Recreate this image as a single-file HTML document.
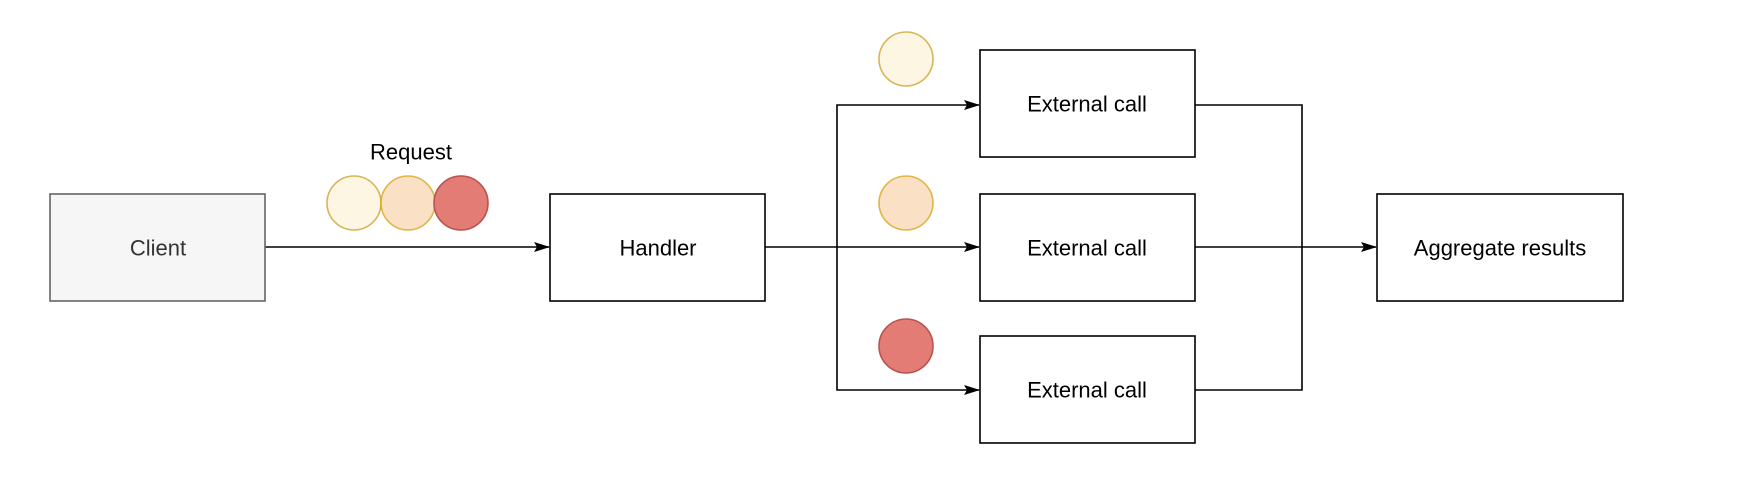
<!DOCTYPE html>
<html><head><meta charset="utf-8"><style>html,body{margin:0;padding:0;background:#fff}</style></head>
<body>
<svg width="1746" height="472" xmlns="http://www.w3.org/2000/svg" font-family="Liberation Sans, Arial, sans-serif" font-size="22">
<defs><marker id="a" markerWidth="16" markerHeight="10" refX="15" refY="5" orient="auto" markerUnits="userSpaceOnUse"><path d="M0,0 L16,5 L0,10 L3,5 Z" fill="#000"/></marker></defs>
<g stroke="#000" stroke-width="1.6" fill="none">
<line x1="265" y1="247" x2="549" y2="247" marker-end="url(#a)"/>
<line x1="765" y1="247" x2="979" y2="247" marker-end="url(#a)"/>
<polyline points="837,247 837,105 979,105" marker-end="url(#a)"/>
<polyline points="837,247 837,390 979,390" marker-end="url(#a)"/>
<line x1="1195" y1="247" x2="1376" y2="247" marker-end="url(#a)"/>
<polyline points="1195,105 1302,105 1302,390 1195,390"/>
</g>
<rect x="50" y="194" width="215" height="107" fill="#f5f6f5" stroke="#666" stroke-width="1.6"/>
<g fill="#fff" stroke="#000" stroke-width="1.6">
<rect x="550" y="194" width="215" height="107"/>
<rect x="980" y="50" width="215" height="107"/>
<rect x="980" y="194" width="215" height="107"/>
<rect x="980" y="336" width="215" height="107"/>
<rect x="1377" y="194" width="246" height="107"/>
</g>
<g stroke-width="1.6">
<circle cx="354" cy="203" r="27" fill="#fdf6e3" stroke="#d6b656"/>
<circle cx="408" cy="203" r="27" fill="#fae1c6" stroke="#d79b00" stroke-opacity="0.7"/>
<circle cx="461" cy="203" r="27" fill="#e27c74" stroke="#b85450"/>
<circle cx="906" cy="59" r="27" fill="#fdf6e3" stroke="#d6b656"/>
<circle cx="906" cy="203" r="27" fill="#fae1c6" stroke="#d79b00" stroke-opacity="0.7"/>
<circle cx="906" cy="346" r="27" fill="#e27c74" stroke="#b85450"/>
</g>
<g text-anchor="middle" dominant-baseline="central">
<text x="158" y="248" fill="#333">Client</text>
<text x="411" y="152">Request</text>
<text x="658" y="248">Handler</text>
<text x="1087" y="104">External call</text>
<text x="1087" y="248">External call</text>
<text x="1087" y="390">External call</text>
<text x="1500" y="248">Aggregate results</text>
</g>
</svg>
</body></html>
